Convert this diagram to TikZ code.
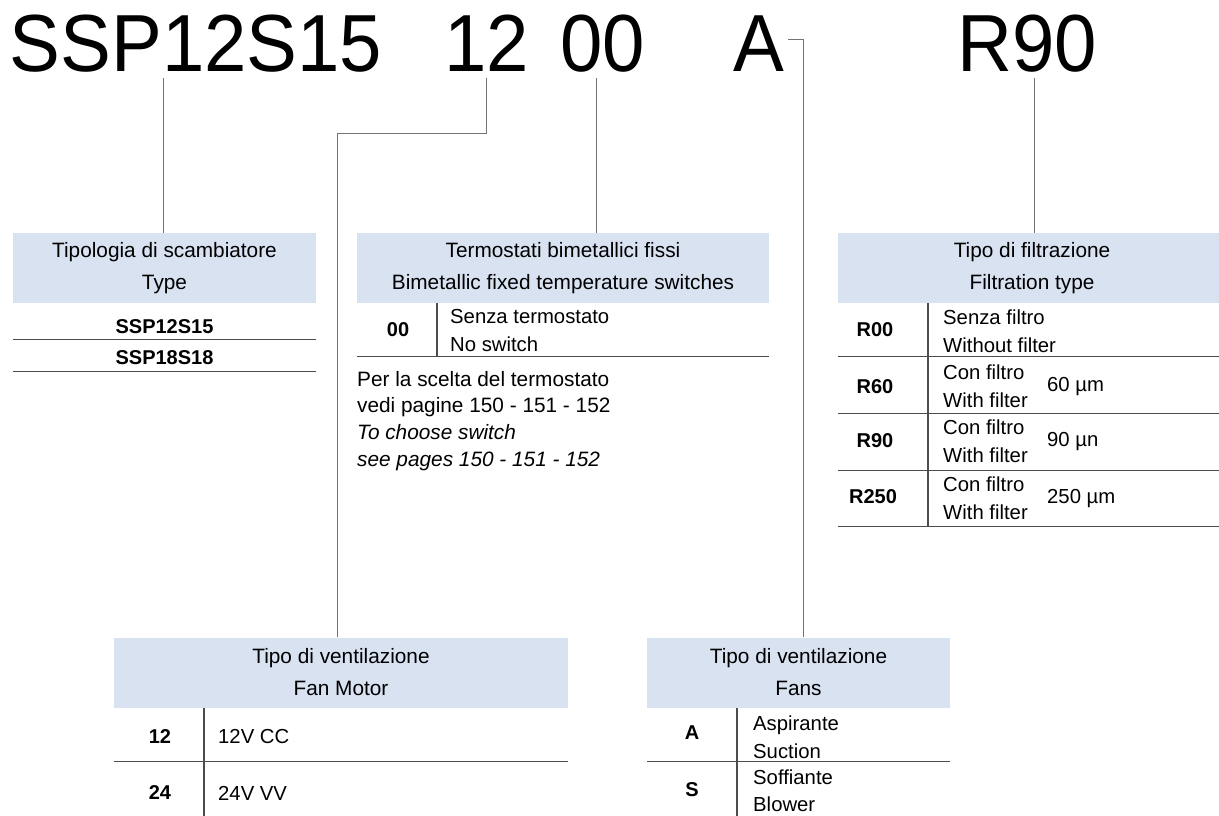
\documentclass[tikz,border=0pt]{standalone}
\usepackage{fontspec}
\setmainfont{Liberation Sans}
\usetikzlibrary{positioning,calc}
\definecolor{hdblue}{RGB}{216,226,241}
\tikzset{
    code/.style = {anchor=base, inner sep=0pt, xscale=0.94, font=\fontsize{81}{81}\selectfont},
    hdr/.style = {fill=hdblue, align=center, inner sep=0pt, minimum height=70, font=\fontsize{20.8}{32}\selectfont},
    key/.style = {inner sep=0pt, font=\bfseries\fontsize{20}{24}\selectfont},
    txt/.style = {inner sep=0pt, anchor=west, align=left, font=\fontsize{20.3}{28}\selectfont},
    wire/.style = {draw=black!55, line width=1},
    rule/.style = {draw=black!70, line width=1.2}
}

\begin{document}
\begin{tikzpicture}[x=1pt, y=-1pt]
    \useasboundingbox (0,0) rectangle (1219,816);
    \clip (0,0) rectangle (1219,816);

    % product code
    \node [code] (cSSP) at (196,71) {SSP12S15};
    \node [code] (cFan) at (487,71) {12};
    \node [code] (cTerm) at (603,71) {00};
    \node [code] (cVent) at (759,71) {A};
    \node [code] (cFilt) at (1027,71) {R90};

    \coordinate (tSSP) at (163,78);
    \coordinate (tFan) at (486,78);
    \coordinate (kFan) at (337,133);
    \coordinate (tTerm) at (596,78);
    \coordinate (tVent) at (788,40);
    \coordinate (kVent) at (803,40);
    \coordinate (tFilt) at (1034,78);

    % headers
    \node [hdr, minimum width=303] (hdType) at (164.5,268) {Tipologia di scambiatore\\Type};
    \node [hdr, minimum width=412] (hdTerm) at (563,268) {Termostati bimetallici fissi\\Bimetallic fixed temperature switches};
    \node [hdr, minimum width=388] (hdFilt) at (1032,268) {Tipo di filtrazione\\Filtration type};
    \node [hdr, minimum width=454] (hdFan) at (341,672.5) {Tipo di ventilazione\\Fan Motor};
    \node [hdr, minimum width=303] (hdVent) at (798.5,672.5) {Tipo di ventilazione\\Fans};

    % connectors
    \draw [wire] (tSSP) -- (tSSP |- hdType.north);
    \draw [wire] (tFan) |- (kFan) -- (kFan |- hdFan.north);
    \draw [wire] (tTerm) -- (tTerm |- hdTerm.north);
    \draw [wire] (tVent) -- (kVent) -- (kVent |- hdVent.north);
    \draw [wire] (tFilt) -- (tFilt |- hdFilt.north);

    % type
    \node [key] (kSSP1) at (164.5,327) {SSP12S15};
    \node [key] (kSSP2) at (164.5,358) {SSP18S18};
    \draw [rule] ([yshift=-36]hdType.south west) -- ([yshift=-36]hdType.south east);
    \draw [rule] ([yshift=-68]hdType.south west) -- ([yshift=-68]hdType.south east);

    % thermostat
    \node [key] (k00) at (398,330) {00};
    \node [txt] (d00) at (450,331) {Senza termostato\\No switch};
    \draw [rule] (437,303) -- (437,356);
    \draw [rule] ([yshift=-53]hdTerm.south west) -- ([yshift=-53]hdTerm.south east);
    \node [txt, anchor=north west, font=\fontsize{20.8}{26.7}\selectfont] (nTerm) at (357,371)
        {Per la scelta del termostato\\vedi pagine 150 - 151 - 152\\\textit{To choose switch}\\\textit{see pages 150 - 151 - 152}};

    % filtration
    \node [key] (kR00) at (875,330) {R00};
    \node [key] (kR60) at (875,387) {R60};
    \node [key] (kR90) at (875,441) {R90};
    \node [key] (kR250) at (873,497) {R250};
    \node [txt] (dR00) at (943,331) {Senza filtro\\Without filter};
    \node [txt] (dR60) at (943,386) {Con filtro\\With filter};
    \node [txt] (dR90) at (943,441.5) {Con filtro\\With filter};
    \node [txt] (dR250) at (943,498) {Con filtro\\With filter};
    \node [txt] (mR60) at (1047,387) {60 µm};
    \node [txt] (mR90) at (1047,442) {90 µn};
    \node [txt] (mR250) at (1047,499) {250 µm};
    \draw [rule] (928,303) -- (928,526);
    \foreach \y in {53,110,167,223}
        \draw [rule] ([yshift=-\y]hdFilt.south west) -- ([yshift=-\y]hdFilt.south east);

    % fan motor
    \node [key] (k12) at (160,737) {12};
    \node [key] (k24) at (160,793) {24};
    \node [txt] (d12) at (218,737) {12V CC};
    \node [txt] (d24) at (218,793) {24V VV};
    \draw [rule] (204,708) -- (204,816);
    \draw [rule] ([yshift=-54]hdFan.south west) -- ([yshift=-54]hdFan.south east);

    % fans
    \node [key] (kA) at (692,733) {A};
    \node [key] (kS) at (692,790) {S};
    \node [txt] (dA) at (753,737) {Aspirante\\Suction};
    \node [txt, font=\fontsize{20.3}{27}\selectfont] (dS) at (753,791) {Soffiante\\Blower};
    \draw [rule] (737,708) -- (737,816);
    \draw [rule] ([yshift=-54]hdVent.south west) -- ([yshift=-54]hdVent.south east);
\end{tikzpicture}
\end{document}
